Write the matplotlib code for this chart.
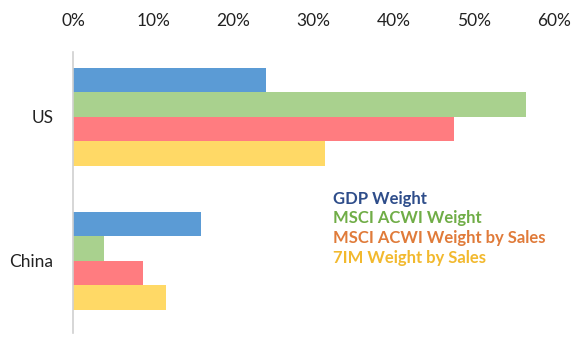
import numpy as np
import matplotlib.pyplot as plt
from matplotlib.ticker import PercentFormatter

plt.rcParams['font.family'] = ['Lato', 'DejaVu Sans']

# Weights by region (%)
regions = ['US', 'China']
series = ['GDP Weight', 'MSCI ACWI Weight', 'MSCI ACWI Weight by Sales', '7IM Weight by Sales']
gdp_weight = [24.1, 16.0]
msci_weight = [56.5, 3.9]
msci_sales_weight = [47.5, 8.7]
sevenim_sales_weight = [31.5, 11.6]

values = [gdp_weight, msci_weight, msci_sales_weight, sevenim_sales_weight]
bar_colors = ['#5B9BD5', '#A9D18E', '#FF7C80', '#FFD966']
text_colors = ['#2E4D8A', '#70AD47', '#E07B3A', '#F2B92E']

fig = plt.figure(figsize=(5.85, 3.5), dpi=100)
ax = fig.add_axes([0.1248, 0.0486, 0.822, 0.8024])

y = np.arange(len(regions))
h = 0.17
for k, (vals, c) in enumerate(zip(values, bar_colors)):
    ax.barh(y + (k - 1.5) * h, vals, height=h, color=c, label=series[k])

ax.set_xlim(0, 60)
ax.set_ylim(1.5, -0.45)
ax.set_xticks(np.arange(0, 61, 10))
ax.xaxis.set_major_formatter(PercentFormatter(decimals=0))
ax.xaxis.tick_top()
ax.set_yticks(y)
ax.set_yticklabels(regions)
ax.tick_params(axis='x', length=0, pad=17, labelsize=12.5, labelcolor='#222222')
ax.tick_params(axis='y', length=0, pad=14, labelsize=12.5, labelcolor='#222222')

for side in ['top', 'right', 'bottom']:
    ax.spines[side].set_visible(False)
ax.spines['left'].set_color('#D0D0D0')
ax.spines['left'].set_linewidth(1.2)

leg = ax.legend(loc='upper left', bbox_to_anchor=(0.51, 0.56), frameon=False,
                handlelength=0, handletextpad=0, labelspacing=0.22,
                prop={'weight': 'bold', 'size': 12}, labelcolor=text_colors)
for handle in leg.legend_handles:
    handle.set_visible(False)

fig.savefig('out.png', dpi=100)
